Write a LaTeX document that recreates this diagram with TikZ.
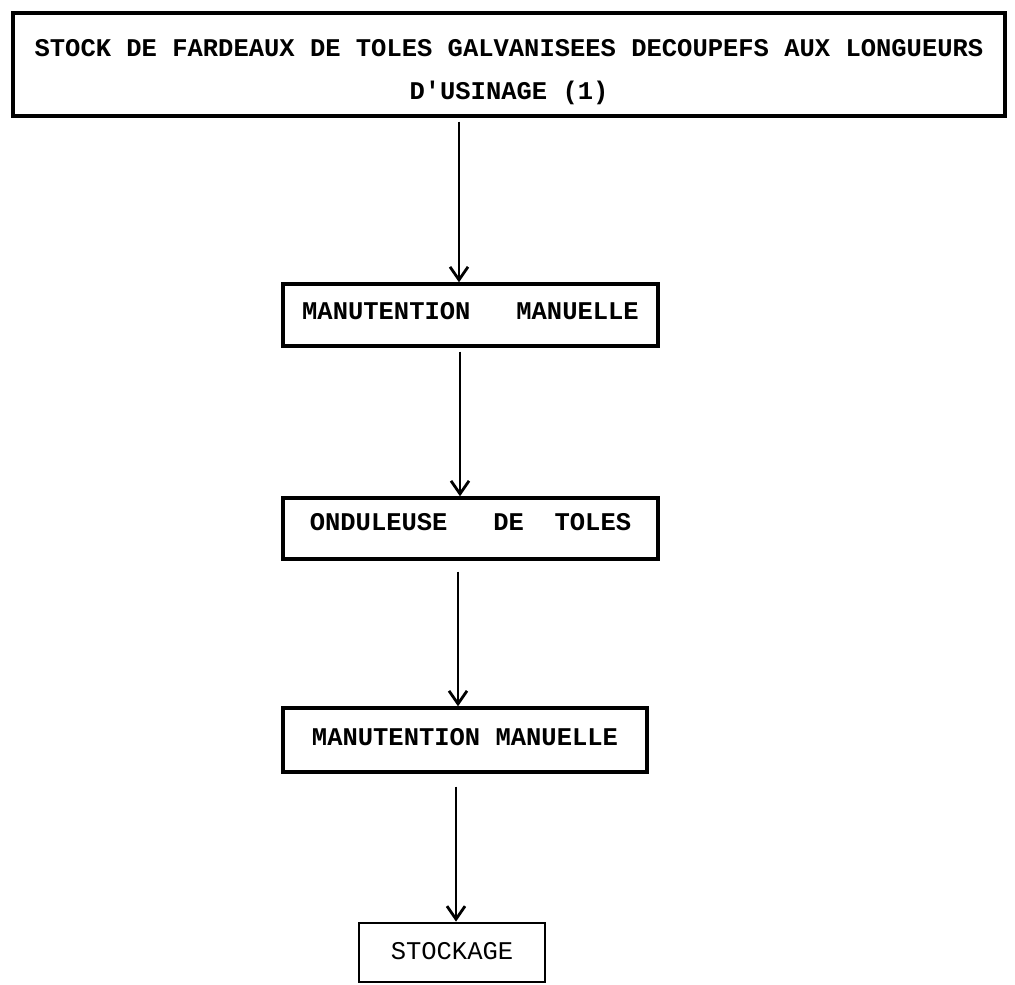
\documentclass[tikz,border=0pt]{standalone}
\usepackage{fontspec}
\setmonofont{Liberation Mono}
\usetikzlibrary{arrows.meta}
\begin{document}
\begin{tikzpicture}[x=1pt,y=-1pt,
  stepbox/.style={draw, line width=3.4pt, inner sep=0pt, anchor=center,
    text height=14.5pt, font=\ttfamily\bfseries\fontsize{25.5}{43}\selectfont},
  lightbox/.style={stepbox, line width=2.8pt, font=\ttfamily\fontsize{25.5}{30}\selectfont},
  boxtext/.style={inner sep=0pt, align=center, font=\ttfamily\bfseries\fontsize{25.5}{43}\selectfont},
  flow/.style={line width=2.8pt, -{Straight Barb[length=13pt,width=18pt,line width=2.8pt]}}]
\useasboundingbox (0,0) rectangle (1015,985);

% process boxes (text depth moves the single-line labels up inside their frames)
\node[stepbox, minimum width=992pt, minimum height=103pt] (src) at (509,64.5) {};
\node[boxtext] (srctext) at (509,72)
  {STOCK DE FARDEAUX DE TOLES GALVANISEES DECOUPEFS AUX LONGUEURS\\D'USINAGE (1)};
\node[stepbox, text depth=6pt, minimum width=375pt, minimum height=62pt] (hand1) at (470.5,315)
  {MANUTENTION\ \ \ MANUELLE};
\node[stepbox, text depth=11pt, minimum width=375pt, minimum height=61pt] (wave) at (470.5,528.5)
  {ONDULEUSE\ \ \ DE\ \ TOLES};
\node[stepbox, text depth=4pt, minimum width=364pt, minimum height=64pt] (hand2) at (465,740)
  {MANUTENTION MANUELLE};
\node[lightbox, text depth=0pt, minimum width=186pt, minimum height=59pt] (store) at (452,952.5)
  {STOCKAGE};

% vertical lines of the connectors
\coordinate (x1) at (459,0);
\coordinate (x2) at (460,0);
\coordinate (x3) at (458,0);
\coordinate (x4) at (456,0);

% connectors
\draw[flow] ([yshift=-4pt]src.south -| x1) -- (hand1.north -| x1);
\draw[flow] ([yshift=-4pt]hand1.south -| x2) -- (wave.north -| x2);
\draw[flow] ([yshift=-11pt]wave.south -| x3) -- (hand2.north -| x3);
\draw[flow] ([yshift=-13pt]hand2.south -| x4) -- (store.north -| x4);
\end{tikzpicture}
\end{document}
